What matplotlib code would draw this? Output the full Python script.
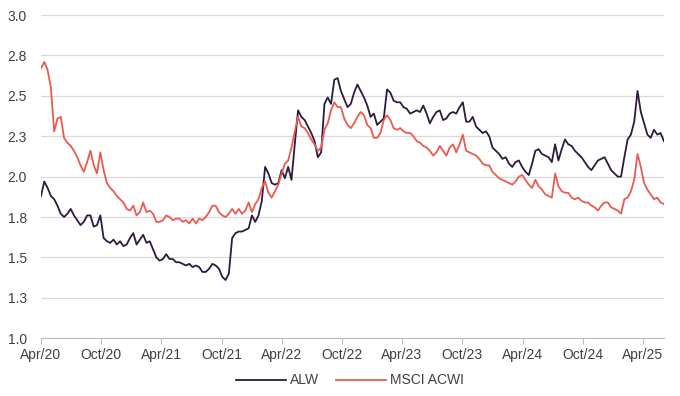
import numpy as np
import pandas as pd
import matplotlib
matplotlib.use('Agg')
import matplotlib.pyplot as plt
import matplotlib.dates as mdates

plt.rcParams['font.family'] = ['Liberation Sans', 'DejaVu Sans']

# values, one every 10 days from 1 Apr 2020
alw = [1.88, 1.97, 1.93, 1.88, 1.86, 1.82, 1.77, 1.75, 1.77, 1.80,
       1.76, 1.73, 1.70, 1.72, 1.76, 1.76, 1.69, 1.70, 1.76, 1.62,
       1.60, 1.59, 1.61, 1.58, 1.60, 1.57, 1.58, 1.62, 1.65, 1.58,
       1.61, 1.64, 1.59, 1.60, 1.55, 1.50, 1.48, 1.49, 1.52, 1.49,
       1.49, 1.47, 1.47, 1.46, 1.45, 1.46, 1.44, 1.45, 1.44, 1.41,
       1.41, 1.43, 1.46, 1.45, 1.43, 1.38, 1.36, 1.40, 1.62, 1.65,
       1.66, 1.66, 1.67, 1.68, 1.76, 1.72, 1.76, 1.85, 2.06, 2.02,
       1.96, 1.95, 1.96, 2.04, 1.99, 2.06, 1.98, 2.20, 2.41, 2.37,
       2.35, 2.31, 2.27, 2.22, 2.12, 2.15, 2.45, 2.49, 2.45, 2.60,
       2.61, 2.53, 2.48, 2.43, 2.45, 2.52, 2.57, 2.53, 2.49, 2.44,
       2.37, 2.39, 2.32, 2.34, 2.36, 2.54, 2.52, 2.47, 2.46, 2.46,
       2.43, 2.42, 2.39, 2.40, 2.41, 2.40, 2.44, 2.39, 2.33, 2.37,
       2.40, 2.41, 2.35, 2.36, 2.39, 2.40, 2.39, 2.43, 2.46, 2.34,
       2.34, 2.37, 2.31, 2.29, 2.27, 2.28, 2.25, 2.18, 2.16, 2.14,
       2.11, 2.12, 2.08, 2.06, 2.09, 2.10, 2.06, 2.03, 2.01, 2.08,
       2.16, 2.17, 2.14, 2.13, 2.12, 2.09, 2.20, 2.10, 2.17, 2.23,
       2.20, 2.19, 2.16, 2.14, 2.12, 2.09, 2.06, 2.04, 2.07, 2.10,
       2.11, 2.12, 2.08, 2.04, 2.02, 2.00, 2.00, 2.12, 2.23, 2.26,
       2.34, 2.53, 2.40, 2.33, 2.26, 2.24, 2.29, 2.26, 2.27, 2.22]

msci = [2.67, 2.71, 2.66, 2.55, 2.28, 2.36, 2.37, 2.24, 2.21, 2.19,
        2.16, 2.12, 2.07, 2.03, 2.09, 2.16, 2.07, 2.02, 2.15, 2.04,
        1.96, 1.93, 1.91, 1.88, 1.86, 1.84, 1.80, 1.79, 1.82, 1.76,
        1.78, 1.84, 1.78, 1.79, 1.77, 1.72, 1.72, 1.73, 1.76, 1.75,
        1.73, 1.74, 1.74, 1.72, 1.73, 1.71, 1.74, 1.71, 1.74, 1.73,
        1.75, 1.78, 1.82, 1.82, 1.78, 1.76, 1.75, 1.77, 1.80, 1.77,
        1.80, 1.77, 1.79, 1.84, 1.78, 1.83, 1.86, 1.93, 1.97, 1.90,
        1.87, 1.91, 1.95, 2.02, 2.08, 2.10, 2.18, 2.28, 2.37, 2.31,
        2.30, 2.27, 2.23, 2.20, 2.16, 2.18, 2.29, 2.33, 2.41, 2.46,
        2.43, 2.43, 2.36, 2.32, 2.30, 2.33, 2.37, 2.40, 2.38, 2.32,
        2.30, 2.24, 2.24, 2.27, 2.35, 2.38, 2.35, 2.30, 2.29, 2.30,
        2.28, 2.27, 2.27, 2.25, 2.22, 2.21, 2.19, 2.18, 2.16, 2.13,
        2.15, 2.19, 2.16, 2.13, 2.18, 2.20, 2.15, 2.20, 2.26, 2.16,
        2.15, 2.14, 2.13, 2.11, 2.08, 2.07, 2.07, 2.03, 2.01, 1.99,
        1.98, 1.97, 1.96, 1.95, 1.97, 2.00, 2.01, 1.98, 1.95, 1.93,
        1.98, 1.94, 1.92, 1.89, 1.88, 1.87, 2.02, 1.94, 1.91, 1.90,
        1.90, 1.87, 1.86, 1.87, 1.85, 1.84, 1.84, 1.82, 1.81, 1.79,
        1.82, 1.84, 1.84, 1.81, 1.80, 1.79, 1.77, 1.86, 1.87, 1.91,
        1.98, 2.14, 2.06, 1.96, 1.92, 1.89, 1.86, 1.87, 1.84, 1.83]

dates = pd.date_range('2020-04-01', periods=len(alw), freq='10D')

y_ticks = [1.0, 1.25, 1.5, 1.75, 2.0, 2.25, 2.5, 2.75, 3.0]
y_labels = ['1.0', '1.3', '1.5', '1.8', '2.0', '2.3', '2.5', '2.8', '3.0']

fig = plt.figure(figsize=(6.8, 3.96), dpi=100)
ax = fig.add_axes([0.0603, 0.146, 0.916, 0.816])

ax.plot(dates, alw, c='#2d1b3f', lw=1.3, label='ALW')
ax.plot(dates, msci, c='#eb5a4e', lw=1.3, label='MSCI ACWI')

ax.set_ylim(1.0, 3.0)
ax.set_yticks(y_ticks)
ax.set_yticklabels(y_labels)
ax.set_xlim(pd.Timestamp('2020-04-01'), dates[-1])
ax.xaxis.set_major_locator(mdates.MonthLocator(bymonth=[4, 10]))
ax.xaxis.set_major_formatter(mdates.DateFormatter('%b/%y'))

ax.grid(axis='y', color='#d9d9d9', lw=0.9)
ax.set_axisbelow(True)
for s in ['top', 'right', 'left']:
    ax.spines[s].set_visible(False)
ax.spines['bottom'].set_color('#bfbfbf')
ax.tick_params(axis='y', length=0, labelsize=10, labelcolor='#404040', pad=10)
ax.tick_params(axis='x', length=4, color='#bfbfbf', labelsize=10, labelcolor='#404040', pad=3)

fig.legend(loc='lower center', bbox_to_anchor=(0.515, -0.01), ncol=2, frameon=False,
           fontsize=10, handlelength=3.6, columnspacing=1.2, handletextpad=0.3,
           labelcolor='#404040')

fig.savefig('out.png', dpi=100)
